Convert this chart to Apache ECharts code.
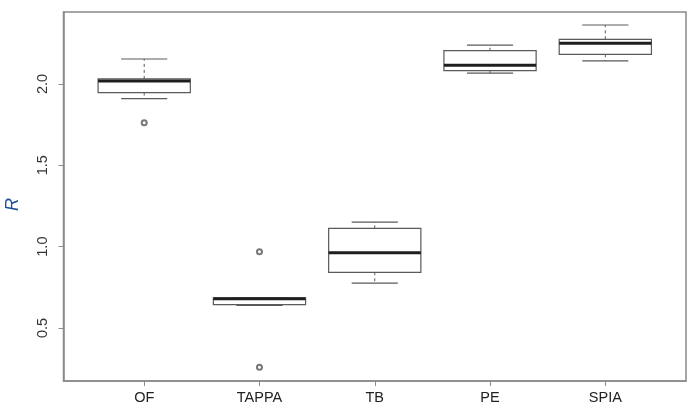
<!DOCTYPE html>
<html>
<head>
<meta charset="utf-8">
<script src="https://cdn.jsdelivr.net/npm/echarts@6/dist/echarts.min.js"></script>
<style>
html,body{margin:0;padding:0;background:#fff;}
#chart{width:699px;height:414px;}
</style>
</head>
<body>
<div id="chart"></div>
<script>
var categories = ['OF', 'TAPPA', 'TB', 'PE', 'SPIA'];
var lowerWhisker = [1.910, 0.638, 0.775, 2.066, 2.141];
var q1 = [1.947, 0.644, 0.842, 2.082, 2.182];
var median = [2.018, 0.679, 0.963, 2.115, 2.250];
var q3 = [2.031, 0.685, 1.112, 2.204, 2.274];
var upperWhisker = [2.153, 0.685, 1.151, 2.239, 2.362];
var outlierCategory = ['OF', 'TAPPA', 'TAPPA'];
var outlierValue = [1.761, 0.969, 0.258];
var yTicks = [0.5, 1.0, 1.5, 2.0];

var boxData = categories.map(function (c, i) {
  return [i + 1, lowerWhisker[i], q1[i], median[i], q3[i], upperWhisker[i]];
});
var outlierData = outlierCategory.map(function (c, i) {
  return [categories.indexOf(c) + 1, outlierValue[i]];
});

var boxColor = '#5a5a5a';
function renderBox(params, api) {
  var x = api.value(0);
  var lw = api.value(1), b1 = api.value(2), med = api.value(3), b3 = api.value(4), uw = api.value(5);
  var pL = api.coord([x - 0.4, b3]);
  var pR = api.coord([x + 0.4, b1]);
  var pMedL = api.coord([x - 0.4, med]);
  var pMedR = api.coord([x + 0.4, med]);
  var pC3 = api.coord([x, b3]);
  var pCu = api.coord([x, uw]);
  var pC1 = api.coord([x, b1]);
  var pCl = api.coord([x, lw]);
  var capL = api.coord([x - 0.2, uw]);
  var capR = api.coord([x + 0.2, uw]);
  var capL2 = api.coord([x - 0.2, lw]);
  var capR2 = api.coord([x + 0.2, lw]);
  var thin = { stroke: boxColor, lineWidth: 1.2, fill: null };
  var dashed = { stroke: boxColor, lineWidth: 1, lineDash: [3, 3] };
  return {
    type: 'group',
    children: [
      { type: 'line', shape: { x1: pC3[0], y1: pC3[1], x2: pCu[0], y2: pCu[1] }, style: dashed },
      { type: 'line', shape: { x1: pC1[0], y1: pC1[1], x2: pCl[0], y2: pCl[1] }, style: dashed },
      { type: 'line', shape: { x1: capL[0], y1: capL[1], x2: capR[0], y2: capR[1] }, style: thin },
      { type: 'line', shape: { x1: capL2[0], y1: capL2[1], x2: capR2[0], y2: capR2[1] }, style: thin },
      { type: 'rect', shape: { x: pL[0], y: pL[1], width: pR[0] - pL[0], height: pR[1] - pL[1] }, style: { stroke: boxColor, lineWidth: 1.2, fill: '#fff' } },
      { type: 'line', shape: { x1: pMedL[0], y1: pMedL[1], x2: pMedR[0], y2: pMedR[1] }, style: { stroke: '#1e1e1e', lineWidth: 3 } }
    ]
  };
}

var chart = echarts.init(document.getElementById('chart'));
chart.setOption({
  animation: false,
  backgroundColor: '#fff',
  grid: { left: 63.5, top: 12, right: 13, bottom: 33, containLabel: false, outerBoundsMode: 'none', show: true, borderColor: '#8a8a8a', borderWidth: 1.5, backgroundColor: 'transparent' },
  xAxis: {
    type: 'value', min: 0.3, max: 5.7,
    axisLine: { show: true, lineStyle: { color: '#8a8a8a', width: 1.5 } },
    axisTick: { show: true, customValues: [1, 2, 3, 4, 5], length: 5, lineStyle: { color: '#8a8a8a' } },
    axisLabel: {
      customValues: [1, 2, 3, 4, 5], margin: 9,
      formatter: function (v) { return categories[Math.round(v) - 1] || ''; },
      color: '#222', fontSize: 14.5, fontFamily: 'Liberation Sans, Arial, sans-serif'
    },
    splitLine: { show: false }
  },
  yAxis: {
    type: 'value', min: 0.174, max: 2.442,
    name: 'R', nameLocation: 'middle', nameGap: 42, nameRotate: 90,
    nameTextStyle: { fontStyle: 'italic', fontSize: 18, color: '#1f4f99', fontFamily: 'Liberation Sans, Arial, sans-serif', padding: [0, 16, 0, 0] },
    axisLine: { show: true, lineStyle: { color: '#8a8a8a', width: 1.5 } },
    axisTick: { show: true, customValues: yTicks, length: 5, lineStyle: { color: '#8a8a8a' } },
    axisLabel: {
      customValues: yTicks, rotate: 90, margin: 13,
      formatter: function (v) { return v.toFixed(1); },
      color: '#333', fontSize: 14.5, fontFamily: 'Liberation Sans, Arial, sans-serif'
    },
    splitLine: { show: false }
  },
  series: [
    { type: 'custom', renderItem: renderBox, data: boxData, encode: { x: 0, y: [1, 2, 3, 4, 5] } },
    { type: 'scatter', data: outlierData, symbol: 'emptyCircle', symbolSize: 5, itemStyle: { color: '#555', borderWidth: 1 } }
  ]
});
</script>
</body>
</html>
